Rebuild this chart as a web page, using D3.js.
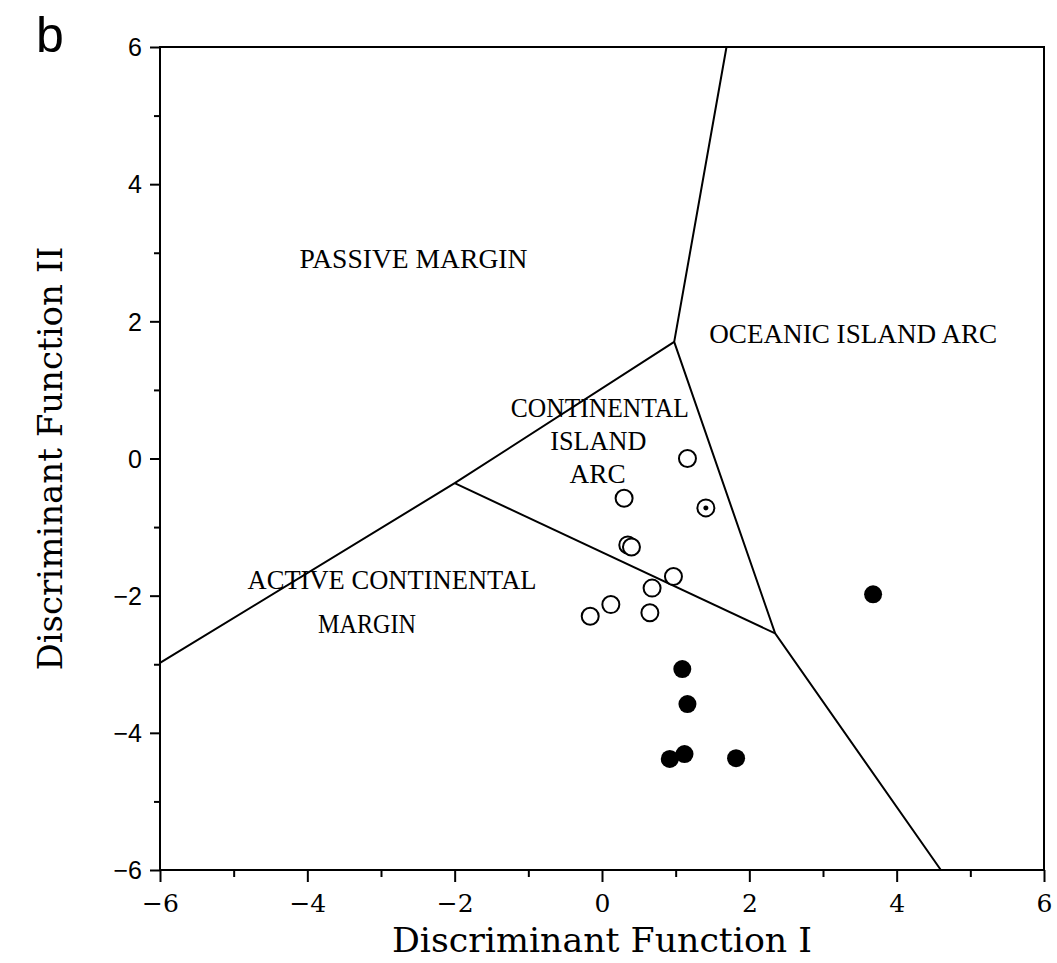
<!DOCTYPE html>
<html><head><meta charset="utf-8">
<script src="https://cdn.jsdelivr.net/npm/d3@7"></script>
<style>body{margin:0;background:#fff;} svg{display:block;}</style>
</head><body>
<svg id="c" width="1057" height="963"></svg>
<script>
// Data
const xTicks = [-6, -4, -2, 0, 2, 4, 6];
const yTicks = [-6, -4, -2, 0, 2, 4, 6];
const openPoints = [[1.16, 0.0], [0.30, -0.58], [0.35, -1.26], [0.40, -1.29], [0.97, -1.72], [0.68, -1.89], [0.12, -2.13], [-0.16, -2.30], [0.65, -2.25]];
const dottedPoints = [[1.41, -0.72]];
const filledPoints = [[1.09, -3.07], [1.16, -3.58], [1.12, -4.31], [0.92, -4.38], [1.82, -4.37], [3.68, -1.98]];
const boundaries = [
  [[1.69, 6], [0.98, 1.70], [2.35, -2.55], [4.6, -6]],
  [[0.98, 1.70], [-2.0, -0.36], [-6, -2.98]],
  [[-2.0, -0.36], [2.35, -2.55]]
];
const fieldLabels = [
  {text: "PASSIVE MARGIN", x: -2.56, y: 2.78, w: 228},
  {text: "OCEANIC ISLAND ARC", x: 3.41, y: 1.68, w: 288},
  {text: "CONTINENTAL", x: -0.03, y: 0.60, w: 178},
  {text: "ISLAND", x: -0.05, y: 0.12, w: 96},
  {text: "ARC", x: -0.06, y: -0.35, w: 56},
  {text: "ACTIVE CONTINENTAL", x: -2.85, y: -1.90, w: 289},
  {text: "MARGIN", x: -3.19, y: -2.55, w: 98}
];

const svg = d3.select("#c");
const L = 160, R = 1044, T = 47, B = 870;
const x = d3.scaleLinear().domain([-6, 6]).range([L, R]);
const y = d3.scaleLinear().domain([-6, 6]).range([B, T]);

// frame
svg.append("rect").attr("x", L).attr("y", T).attr("width", R - L).attr("height", B - T)
  .attr("fill", "none").attr("stroke", "#000").attr("stroke-width", 2);

// axes
const xAxis = svg.append("g").attr("transform", `translate(0,${B})`)
  .call(d3.axisBottom(x).tickValues(d3.range(-6, 7, 1)).tickSize(0).tickFormat(""));
xAxis.select(".domain").remove();
xAxis.selectAll(".tick line").attr("y2", d => d % 2 === 0 ? 12 : 7).attr("stroke-width", 2);
const xLab = svg.append("g").attr("transform", `translate(0,${B})`)
  .call(d3.axisBottom(x).tickValues(xTicks).tickSize(0).tickFormat(d => d < 0 ? "\u2212" + Math.abs(d) : d));
xLab.select(".domain").remove();
xLab.selectAll("text").attr("dy", 0).attr("y", 42).attr("font-family", "DejaVu Serif")
  .attr("font-size", 25).attr("fill", "#000");

const yAxis = svg.append("g").attr("transform", `translate(${L},0)`)
  .call(d3.axisLeft(y).tickValues(d3.range(-6, 7, 1)).tickSize(0).tickFormat(""));
yAxis.select(".domain").remove();
yAxis.selectAll(".tick line").attr("x2", d => d % 2 === 0 ? -10 : -6).attr("stroke-width", 2);
const yLab = svg.append("g").attr("transform", `translate(${L},0)`)
  .call(d3.axisLeft(y).tickValues(yTicks).tickSize(0).tickFormat(d => d < 0 ? "\u2212" + Math.abs(d) : d));
yLab.select(".domain").remove();
yLab.selectAll("text").attr("x", -18).attr("dy", "0.35em").attr("font-family", "Liberation Sans, Arial")
  .attr("font-size", 25).attr("fill", "#000");

// boundaries
const line = d3.line().x(d => x(d[0])).y(d => y(d[1]));
svg.append("g").selectAll("path").data(boundaries).join("path")
  .attr("d", line).attr("fill", "none").attr("stroke", "#000").attr("stroke-width", 2);

// field labels
svg.append("g").selectAll("text").data(fieldLabels).join("text")
  .attr("x", d => x(d.x)).attr("y", d => y(d.y))
  .attr("text-anchor", "middle").attr("font-family", "Liberation Serif, Times New Roman")
  .attr("font-size", 27).attr("textLength", d => d.w).attr("lengthAdjust", "spacingAndGlyphs")
  .attr("fill", "#000").text(d => d.text);

// points
svg.append("g").selectAll("circle").data(openPoints).join("circle")
  .attr("cx", d => x(d[0])).attr("cy", d => y(d[1])).attr("r", 8.5)
  .attr("fill", "#fff").attr("stroke", "#000").attr("stroke-width", 2);
const dp = svg.append("g").selectAll("g").data(dottedPoints).join("g");
dp.append("circle").attr("cx", d => x(d[0])).attr("cy", d => y(d[1])).attr("r", 8.5)
  .attr("fill", "#fff").attr("stroke", "#000").attr("stroke-width", 2);
dp.append("circle").attr("cx", d => x(d[0])).attr("cy", d => y(d[1])).attr("r", 2.5).attr("fill", "#000");
svg.append("g").selectAll("circle").data(filledPoints).join("circle")
  .attr("cx", d => x(d[0])).attr("cy", d => y(d[1])).attr("r", 9).attr("fill", "#000");

// axis titles
svg.append("text").attr("x", (L + R) / 2).attr("y", 952).attr("text-anchor", "middle")
  .attr("font-family", "DejaVu Serif").attr("font-size", 33).attr("textLength", 420)
  .attr("lengthAdjust", "spacingAndGlyphs").attr("fill", "#000").text("Discriminant Function I");
svg.append("text").attr("transform", `translate(62,${(T + B) / 2}) rotate(-90)`).attr("text-anchor", "middle")
  .attr("font-family", "DejaVu Serif").attr("font-size", 33).attr("textLength", 424)
  .attr("lengthAdjust", "spacingAndGlyphs").attr("fill", "#000").text("Discriminant Function II");

// panel letter
svg.append("text").attr("x", 36).attr("y", 52).attr("font-family", "Liberation Sans, Arial")
  .attr("font-size", 50).attr("fill", "#000").text("b");
</script>
</body></html>
